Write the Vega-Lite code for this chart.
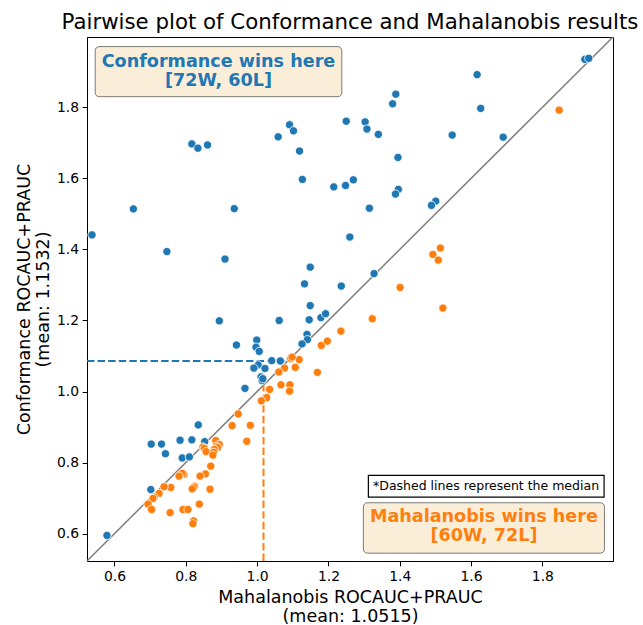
{
  "$schema": "https://vega.github.io/schema/vega-lite/v6.json",
  "autosize": "none",
  "padding": {"left": 87, "top": 37, "right": 30, "bottom": 64},
  "width": 526,
  "height": 524,
  "config": {
    "font": "DejaVu Sans",
    "view": {"stroke": "black", "strokeWidth": 1},
    "axis": {
      "grid": false,
      "domainColor": "black",
      "tickColor": "black",
      "tickSize": 4.9,
      "labelFont": "DejaVu Sans",
      "labelFontSize": 13.9,
      "labelColor": "black",
      "labelPadding": 3.5,
      "titleFont": "DejaVu Sans",
      "titleFontSize": 17.5,
      "titleFontWeight": "normal",
      "titleColor": "black",
      "titleLineHeight": 19.5
    }
  },
  "title": {
    "text": "Pairwise plot of Conformance and Mahalanobis results",
    "font": "DejaVu Sans",
    "fontSize": 21.3,
    "fontWeight": "normal",
    "color": "black",
    "offset": 3
  },
  "datasets": {
    "points": [
      {"mahalanobis": 0.537, "conformance": 1.441, "winner": "Conformance"},
      {"mahalanobis": 0.653, "conformance": 1.514, "winner": "Conformance"},
      {"mahalanobis": 0.747, "conformance": 1.394, "winner": "Conformance"},
      {"mahalanobis": 0.817, "conformance": 1.697, "winner": "Conformance"},
      {"mahalanobis": 0.834, "conformance": 1.685, "winner": "Conformance"},
      {"mahalanobis": 0.861, "conformance": 1.694, "winner": "Conformance"},
      {"mahalanobis": 0.910, "conformance": 1.373, "winner": "Conformance"},
      {"mahalanobis": 0.936, "conformance": 1.515, "winner": "Conformance"},
      {"mahalanobis": 1.059, "conformance": 1.717, "winner": "Conformance"},
      {"mahalanobis": 1.091, "conformance": 1.751, "winner": "Conformance"},
      {"mahalanobis": 1.102, "conformance": 1.734, "winner": "Conformance"},
      {"mahalanobis": 1.119, "conformance": 1.677, "winner": "Conformance"},
      {"mahalanobis": 1.127, "conformance": 1.597, "winner": "Conformance"},
      {"mahalanobis": 1.149, "conformance": 1.350, "winner": "Conformance"},
      {"mahalanobis": 1.133, "conformance": 1.303, "winner": "Conformance"},
      {"mahalanobis": 1.215, "conformance": 1.576, "winner": "Conformance"},
      {"mahalanobis": 1.248, "conformance": 1.580, "winner": "Conformance"},
      {"mahalanobis": 1.270, "conformance": 1.596, "winner": "Conformance"},
      {"mahalanobis": 1.250, "conformance": 1.761, "winner": "Conformance"},
      {"mahalanobis": 1.260, "conformance": 1.435, "winner": "Conformance"},
      {"mahalanobis": 1.236, "conformance": 1.297, "winner": "Conformance"},
      {"mahalanobis": 1.919, "conformance": 1.935, "winner": "Conformance"},
      {"mahalanobis": 1.930, "conformance": 1.938, "winner": "Conformance"},
      {"mahalanobis": 1.617, "conformance": 1.892, "winner": "Conformance"},
      {"mahalanobis": 1.627, "conformance": 1.797, "winner": "Conformance"},
      {"mahalanobis": 1.690, "conformance": 1.716, "winner": "Conformance"},
      {"mahalanobis": 1.547, "conformance": 1.722, "winner": "Conformance"},
      {"mahalanobis": 1.389, "conformance": 1.837, "winner": "Conformance"},
      {"mahalanobis": 1.380, "conformance": 1.810, "winner": "Conformance"},
      {"mahalanobis": 1.303, "conformance": 1.759, "winner": "Conformance"},
      {"mahalanobis": 1.308, "conformance": 1.739, "winner": "Conformance"},
      {"mahalanobis": 1.340, "conformance": 1.724, "winner": "Conformance"},
      {"mahalanobis": 1.395, "conformance": 1.659, "winner": "Conformance"},
      {"mahalanobis": 1.396, "conformance": 1.569, "winner": "Conformance"},
      {"mahalanobis": 1.388, "conformance": 1.556, "winner": "Conformance"},
      {"mahalanobis": 1.315, "conformance": 1.516, "winner": "Conformance"},
      {"mahalanobis": 1.501, "conformance": 1.536, "winner": "Conformance"},
      {"mahalanobis": 1.489, "conformance": 1.524, "winner": "Conformance"},
      {"mahalanobis": 1.328, "conformance": 1.332, "winner": "Conformance"},
      {"mahalanobis": 1.149, "conformance": 1.242, "winner": "Conformance"},
      {"mahalanobis": 1.146, "conformance": 1.202, "winner": "Conformance"},
      {"mahalanobis": 1.179, "conformance": 1.208, "winner": "Conformance"},
      {"mahalanobis": 1.192, "conformance": 1.219, "winner": "Conformance"},
      {"mahalanobis": 0.894, "conformance": 1.199, "winner": "Conformance"},
      {"mahalanobis": 1.062, "conformance": 1.200, "winner": "Conformance"},
      {"mahalanobis": 1.140, "conformance": 1.161, "winner": "Conformance"},
      {"mahalanobis": 1.141, "conformance": 1.146, "winner": "Conformance"},
      {"mahalanobis": 1.126, "conformance": 1.134, "winner": "Conformance"},
      {"mahalanobis": 0.942, "conformance": 1.131, "winner": "Conformance"},
      {"mahalanobis": 0.999, "conformance": 1.145, "winner": "Conformance"},
      {"mahalanobis": 0.997, "conformance": 1.125, "winner": "Conformance"},
      {"mahalanobis": 1.006, "conformance": 1.113, "winner": "Conformance"},
      {"mahalanobis": 1.041, "conformance": 1.087, "winner": "Conformance"},
      {"mahalanobis": 1.065, "conformance": 1.086, "winner": "Conformance"},
      {"mahalanobis": 1.003, "conformance": 1.075, "winner": "Conformance"},
      {"mahalanobis": 0.991, "conformance": 1.066, "winner": "Conformance"},
      {"mahalanobis": 1.022, "conformance": 1.065, "winner": "Conformance"},
      {"mahalanobis": 1.011, "conformance": 1.041, "winner": "Conformance"},
      {"mahalanobis": 1.014, "conformance": 1.031, "winner": "Conformance"},
      {"mahalanobis": 1.016, "conformance": 1.036, "winner": "Conformance"},
      {"mahalanobis": 0.966, "conformance": 1.009, "winner": "Conformance"},
      {"mahalanobis": 0.835, "conformance": 0.906, "winner": "Conformance"},
      {"mahalanobis": 0.703, "conformance": 0.852, "winner": "Conformance"},
      {"mahalanobis": 0.732, "conformance": 0.852, "winner": "Conformance"},
      {"mahalanobis": 0.743, "conformance": 0.825, "winner": "Conformance"},
      {"mahalanobis": 0.784, "conformance": 0.863, "winner": "Conformance"},
      {"mahalanobis": 0.817, "conformance": 0.864, "winner": "Conformance"},
      {"mahalanobis": 0.853, "conformance": 0.859, "winner": "Conformance"},
      {"mahalanobis": 0.790, "conformance": 0.813, "winner": "Conformance"},
      {"mahalanobis": 0.810, "conformance": 0.816, "winner": "Conformance"},
      {"mahalanobis": 0.702, "conformance": 0.724, "winner": "Conformance"},
      {"mahalanobis": 0.579, "conformance": 0.595, "winner": "Conformance"},
      {"mahalanobis": 1.847, "conformance": 1.792, "winner": "Mahalanobis"},
      {"mahalanobis": 1.514, "conformance": 1.404, "winner": "Mahalanobis"},
      {"mahalanobis": 1.493, "conformance": 1.386, "winner": "Mahalanobis"},
      {"mahalanobis": 1.508, "conformance": 1.370, "winner": "Mahalanobis"},
      {"mahalanobis": 1.401, "conformance": 1.293, "winner": "Mahalanobis"},
      {"mahalanobis": 1.235, "conformance": 1.170, "winner": "Mahalanobis"},
      {"mahalanobis": 1.323, "conformance": 1.205, "winner": "Mahalanobis"},
      {"mahalanobis": 1.521, "conformance": 1.235, "winner": "Mahalanobis"},
      {"mahalanobis": 1.180, "conformance": 1.130, "winner": "Mahalanobis"},
      {"mahalanobis": 1.197, "conformance": 1.142, "winner": "Mahalanobis"},
      {"mahalanobis": 1.169, "conformance": 1.054, "winner": "Mahalanobis"},
      {"mahalanobis": 1.094, "conformance": 1.093, "winner": "Mahalanobis"},
      {"mahalanobis": 1.118, "conformance": 1.090, "winner": "Mahalanobis"},
      {"mahalanobis": 1.098, "conformance": 1.097, "winner": "Mahalanobis"},
      {"mahalanobis": 1.107, "conformance": 1.068, "winner": "Mahalanobis"},
      {"mahalanobis": 1.077, "conformance": 1.066, "winner": "Mahalanobis"},
      {"mahalanobis": 1.061, "conformance": 1.055, "winner": "Mahalanobis"},
      {"mahalanobis": 1.067, "conformance": 1.019, "winner": "Mahalanobis"},
      {"mahalanobis": 1.092, "conformance": 1.019, "winner": "Mahalanobis"},
      {"mahalanobis": 1.091, "conformance": 1.001, "winner": "Mahalanobis"},
      {"mahalanobis": 1.035, "conformance": 1.006, "winner": "Mahalanobis"},
      {"mahalanobis": 1.027, "conformance": 0.983, "winner": "Mahalanobis"},
      {"mahalanobis": 1.012, "conformance": 0.974, "winner": "Mahalanobis"},
      {"mahalanobis": 0.947, "conformance": 0.937, "winner": "Mahalanobis"},
      {"mahalanobis": 0.930, "conformance": 0.904, "winner": "Mahalanobis"},
      {"mahalanobis": 0.981, "conformance": 0.905, "winner": "Mahalanobis"},
      {"mahalanobis": 0.971, "conformance": 0.860, "winner": "Mahalanobis"},
      {"mahalanobis": 0.884, "conformance": 0.862, "winner": "Mahalanobis"},
      {"mahalanobis": 0.894, "conformance": 0.851, "winner": "Mahalanobis"},
      {"mahalanobis": 0.886, "conformance": 0.846, "winner": "Mahalanobis"},
      {"mahalanobis": 0.889, "conformance": 0.842, "winner": "Mahalanobis"},
      {"mahalanobis": 0.880, "conformance": 0.837, "winner": "Mahalanobis"},
      {"mahalanobis": 0.848, "conformance": 0.844, "winner": "Mahalanobis"},
      {"mahalanobis": 0.852, "conformance": 0.840, "winner": "Mahalanobis"},
      {"mahalanobis": 0.857, "conformance": 0.831, "winner": "Mahalanobis"},
      {"mahalanobis": 0.878, "conformance": 0.829, "winner": "Mahalanobis"},
      {"mahalanobis": 0.876, "conformance": 0.821, "winner": "Mahalanobis"},
      {"mahalanobis": 0.870, "conformance": 0.790, "winner": "Mahalanobis"},
      {"mahalanobis": 0.855, "conformance": 0.768, "winner": "Mahalanobis"},
      {"mahalanobis": 0.840, "conformance": 0.762, "winner": "Mahalanobis"},
      {"mahalanobis": 0.795, "conformance": 0.767, "winner": "Mahalanobis"},
      {"mahalanobis": 0.790, "conformance": 0.770, "winner": "Mahalanobis"},
      {"mahalanobis": 0.781, "conformance": 0.762, "winner": "Mahalanobis"},
      {"mahalanobis": 0.825, "conformance": 0.734, "winner": "Mahalanobis"},
      {"mahalanobis": 0.823, "conformance": 0.731, "winner": "Mahalanobis"},
      {"mahalanobis": 0.818, "conformance": 0.726, "winner": "Mahalanobis"},
      {"mahalanobis": 0.868, "conformance": 0.725, "winner": "Mahalanobis"},
      {"mahalanobis": 0.758, "conformance": 0.730, "winner": "Mahalanobis"},
      {"mahalanobis": 0.739, "conformance": 0.732, "winner": "Mahalanobis"},
      {"mahalanobis": 0.725, "conformance": 0.713, "winner": "Mahalanobis"},
      {"mahalanobis": 0.712, "conformance": 0.703, "winner": "Mahalanobis"},
      {"mahalanobis": 0.708, "conformance": 0.699, "winner": "Mahalanobis"},
      {"mahalanobis": 0.694, "conformance": 0.683, "winner": "Mahalanobis"},
      {"mahalanobis": 0.704, "conformance": 0.668, "winner": "Mahalanobis"},
      {"mahalanobis": 0.756, "conformance": 0.659, "winner": "Mahalanobis"},
      {"mahalanobis": 0.792, "conformance": 0.668, "winner": "Mahalanobis"},
      {"mahalanobis": 0.806, "conformance": 0.668, "winner": "Mahalanobis"},
      {"mahalanobis": 0.838, "conformance": 0.683, "winner": "Mahalanobis"},
      {"mahalanobis": 0.822, "conformance": 0.636, "winner": "Mahalanobis"},
      {"mahalanobis": 0.820, "conformance": 0.628, "winner": "Mahalanobis"}
    ]
  },
  "layer": [
    {
      "data": {"values": [{}]},
      "mark": {"type": "rule", "color": "#808080", "strokeWidth": 1.5},
      "encoding": {
        "x": {"datum": 0.523, "type": "quantitative", "scale": {"domain": [0.523, 1.998], "nice": false, "zero": false}},
        "y": {"datum": 0.523, "type": "quantitative", "scale": {"domain": [0.523, 1.998], "nice": false, "zero": false}},
        "x2": {"datum": 1.998},
        "y2": {"datum": 1.998}
      }
    },
    {
      "data": {"values": [{}]},
      "mark": {"type": "rule", "color": "#1f77b4", "strokeWidth": 2, "strokeDash": [7.4, 3.2]},
      "encoding": {
        "x": {"datum": 0.523, "type": "quantitative"},
        "x2": {"datum": 1.086},
        "y": {"datum": 1.086, "type": "quantitative"}
      }
    },
    {
      "data": {"values": [{}]},
      "mark": {"type": "rule", "color": "#ff7f0e", "strokeWidth": 2, "strokeDash": [7.4, 3.2]},
      "encoding": {
        "x": {"datum": 1.018, "type": "quantitative"},
        "y": {"datum": 0.523, "type": "quantitative"},
        "y2": {"datum": 1.018}
      }
    },
    {
      "data": {"name": "points"},
      "mark": {"type": "circle", "size": 68, "opacity": 1, "stroke": "white", "strokeWidth": 0.8},
      "encoding": {
        "x": {
          "field": "mahalanobis", "type": "quantitative",
          "scale": {"domain": [0.523, 1.998], "nice": false, "zero": false},
          "axis": {"title": ["Mahalanobis ROCAUC+PRAUC", "(mean: 1.0515)"], "values": [0.6, 0.8, 1.0, 1.2, 1.4, 1.6, 1.8], "format": ".1f", "titlePadding": 5}
        },
        "y": {
          "field": "conformance", "type": "quantitative",
          "scale": {"domain": [0.523, 1.998], "nice": false, "zero": false},
          "axis": {"title": ["Conformance ROCAUC+PRAUC", "(mean: 1.1532)"], "values": [0.6, 0.8, 1.0, 1.2, 1.4, 1.6, 1.8], "format": ".1f", "titlePadding": 4}
        },
        "color": {
          "field": "winner", "type": "nominal",
          "scale": {"domain": ["Conformance", "Mahalanobis"], "range": ["#1f77b4", "#ff7f0e"]},
          "legend": null
        }
      }
    },
    {
      "data": {"values": [{}]},
      "mark": {"type": "rect", "fill": "#f5deb3", "fillOpacity": 0.5, "stroke": "black", "strokeOpacity": 0.5, "strokeWidth": 1, "cornerRadius": 4},
      "encoding": {
        "x": {"datum": 0.546, "type": "quantitative"},
        "x2": {"datum": 1.2375},
        "y": {"datum": 1.971, "type": "quantitative"},
        "y2": {"datum": 1.830}
      }
    },
    {
      "data": {"values": [{}]},
      "mark": {"type": "text", "text": ["Conformance wins here", "[72W, 60L]"], "font": "DejaVu Sans", "fontWeight": "bold", "fontSize": 17.6, "color": "#1f77b4", "align": "center", "baseline": "middle", "lineHeight": 19.5},
      "encoding": {
        "x": {"datum": 0.8916, "type": "quantitative"},
        "y": {"datum": 1.928, "type": "quantitative"}
      }
    },
    {
      "data": {"values": [{}]},
      "mark": {"type": "rect", "fill": "white", "stroke": "black", "strokeWidth": 1.2},
      "encoding": {
        "x": {"datum": 1.312, "type": "quantitative"},
        "x2": {"datum": 1.973},
        "y": {"datum": 0.764, "type": "quantitative"},
        "y2": {"datum": 0.703}
      }
    },
    {
      "data": {"values": [{}]},
      "mark": {"type": "text", "text": "*Dashed lines represent the median", "font": "DejaVu Sans", "fontSize": 12.5, "color": "black", "align": "center", "baseline": "middle"},
      "encoding": {
        "x": {"datum": 1.642, "type": "quantitative"},
        "y": {"datum": 0.734, "type": "quantitative"}
      }
    },
    {
      "data": {"values": [{}]},
      "mark": {"type": "rect", "fill": "#f5deb3", "fillOpacity": 0.5, "stroke": "black", "strokeOpacity": 0.5, "strokeWidth": 1, "cornerRadius": 4},
      "encoding": {
        "x": {"datum": 1.298, "type": "quantitative"},
        "x2": {"datum": 1.974},
        "y": {"datum": 0.687, "type": "quantitative"},
        "y2": {"datum": 0.545}
      }
    },
    {
      "data": {"values": [{}]},
      "mark": {"type": "text", "text": ["Mahalanobis wins here", "[60W, 72L]"], "font": "DejaVu Sans", "fontWeight": "bold", "fontSize": 17.6, "color": "#ff7f0e", "align": "center", "baseline": "middle", "lineHeight": 19.5},
      "encoding": {
        "x": {"datum": 1.636, "type": "quantitative"},
        "y": {"datum": 0.647, "type": "quantitative"}
      }
    }
  ]
}
